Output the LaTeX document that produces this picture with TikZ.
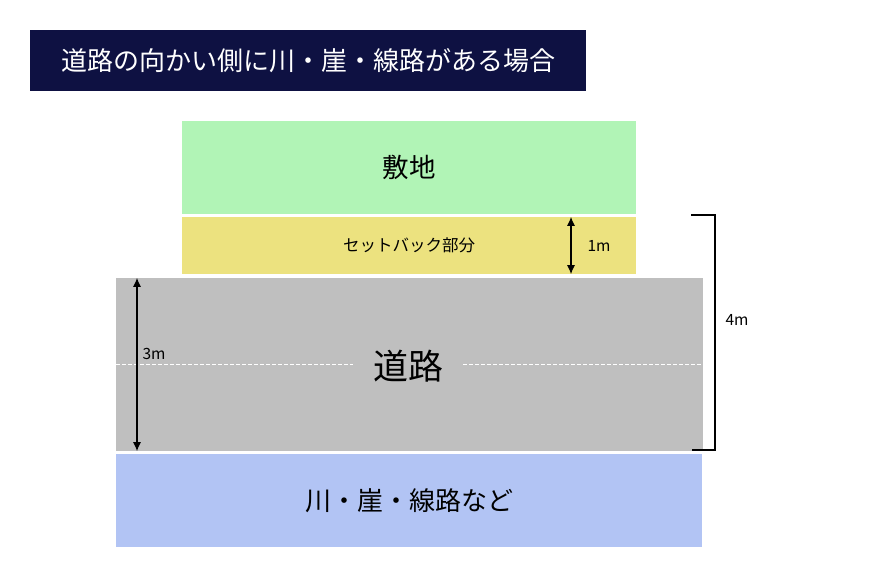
\documentclass[tikz,border=0pt]{standalone}
\usepackage{fontspec}
\setmainfont{Noto Sans CJK JP}
\usetikzlibrary{arrows.meta}
\definecolor{navy}{HTML}{0E1142}
\definecolor{sitegreen}{HTML}{B1F4B6}
\definecolor{setyellow}{HTML}{ECE27F}
\definecolor{roadgrey}{HTML}{BFBFBF}
\definecolor{riverblue}{HTML}{B2C4F4}
\tikzset{
  box/.style={draw=none, inner sep=0pt, anchor=center},
  dimarrow/.style={line width=1.2pt, {Latex[length=9pt,width=8pt]}-{Latex[length=9pt,width=8pt]}},
  dimtext/.style={font=\fontsize{15.5}{18}\selectfont, text=black, inner sep=0pt},
  bracket/.style={line width=2pt, line join=miter},
}
\begin{document}
\begin{tikzpicture}[x=1pt,y=-1pt]
\useasboundingbox (0,0) rectangle (870,580);
\fill[white] (0,0) rectangle (870,580);
% title
\node[box, fill=navy, minimum width=556pt, minimum height=61pt, text=white,
  font=\fontsize{26}{30}\selectfont] (title) at (308,60.5) {道路の向かい側に川・崖・線路がある場合};
% site
\node[box, fill=sitegreen, minimum width=454pt, minimum height=93pt,
  font=\fontsize{26.5}{30}\selectfont] (site) at (409,167.5) {敷地};
% setback
\node[box, fill=setyellow, minimum width=454pt, minimum height=57pt,
  font=\fontsize{16.5}{20}\selectfont] (setback) at (409,245.5) {セットバック部分};
% road
\node[box, fill=roadgrey, minimum width=587pt, minimum height=173pt] (road) at (409.5,364.5) {};
\node[inner xsep=20pt, inner ysep=0pt, font=\fontsize{35}{40}\selectfont] (roadlabel) at (408,366) {道路};
\coordinate (dashy) at (0,364);
\draw[white, line width=0.8pt, dash pattern=on 4pt off 2pt] (road.west |- dashy) -- (roadlabel.west |- dashy);
\draw[white, line width=0.8pt, dash pattern=on 4pt off 2pt] (roadlabel.east |- dashy) -- (road.east |- dashy);
% river etc
\node[box, fill=riverblue, minimum width=586pt, minimum height=93pt,
  font=\fontsize{26}{30}\selectfont] (river) at (409,500.5) {川・崖・線路など};
% 1m dimension
\coordinate (m1x) at (571,0);
\draw[dimarrow] (setback.north -| m1x) -- (setback.south -| m1x);
\node[dimtext] (m1) at (599,246) {1m};
% 3m dimension
\coordinate (m3x) at (137,0);
\draw[dimarrow] (road.north -| m3x) -- (road.south -| m3x);
\node[dimtext] (m3) at (154,354) {3m};
% 4m bracket
\coordinate (b1) at (691,215);
\coordinate (b2) at (715,215);
\coordinate (b3) at (715,450);
\coordinate (b4) at (692,450);
\draw[bracket] (b1) -- (b2) -- (b3) -- (b4);
\node[dimtext] (m4) at (737,320) {4m};
\end{tikzpicture}
\end{document}
